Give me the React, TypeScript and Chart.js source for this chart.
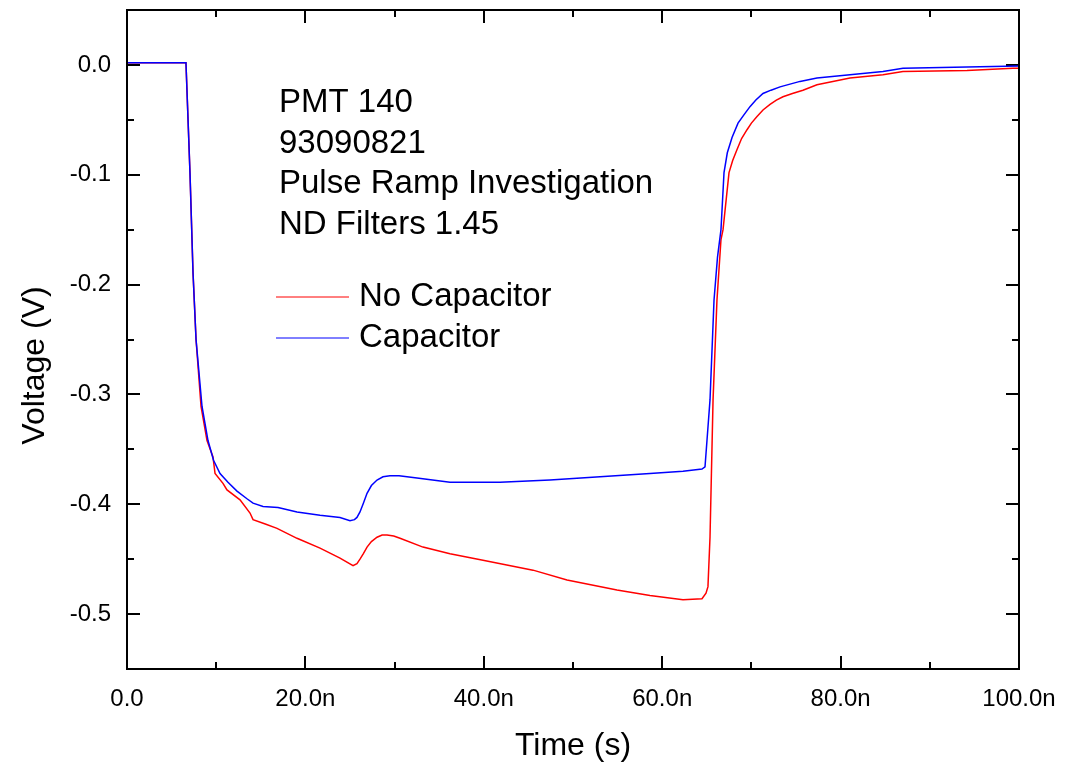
import React, { useEffect, useRef } from "react";
import { Chart, registerables } from "chart.js";

Chart.register(...registerables);

// Time in ns, voltage in V
const timeNoCap = [0, 6.61, 7.06, 7.4, 7.74, 8.3, 8.97, 9.64, 9.87, 10.76, 11.21, 12.67, 13.79, 14.13, 15.5, 16.82, 19.06, 21.64, 23.88, 25.34, 25.78, 26.12, 26.5, 26.91, 27.4, 28.03, 28.6, 29.15, 29.9, 30.61, 33.18, 36.21, 39.91, 45.52, 49.33, 54.93, 58.63, 62.33, 64.46, 64.91, 65.13, 65.36, 65.7, 66.14, 66.59, 66.82, 67.49, 67.9, 68.39, 68.9, 69.51, 70.0, 70.63, 71.3, 72.09, 72.8, 73.54, 74.6, 75.78, 77.35, 81.05, 84.75, 86.99, 94.17, 99.33, 100];
const voltNoCap = [0.002, 0.002, -0.098, -0.189, -0.25, -0.311, -0.342, -0.357, -0.372, -0.381, -0.387, -0.396, -0.408, -0.414, -0.418, -0.422, -0.431, -0.44, -0.449, -0.456, -0.454, -0.45, -0.445, -0.439, -0.434, -0.43, -0.428, -0.428, -0.429, -0.431, -0.439, -0.445, -0.451, -0.46, -0.469, -0.478, -0.483, -0.487, -0.486, -0.481, -0.475, -0.43, -0.305, -0.214, -0.159, -0.15, -0.098, -0.087, -0.077, -0.067, -0.059, -0.053, -0.047, -0.041, -0.036, -0.032, -0.029, -0.026, -0.023, -0.018, -0.012, -0.009, -0.006, -0.005, -0.003, -0.003];

const timeCap = [0, 6.61, 7.06, 7.4, 7.74, 8.41, 9.08, 9.7, 10.43, 11.32, 12.33, 13.45, 14.13, 15.25, 16.93, 19.06, 21.64, 23.88, 25.0, 25.5, 25.78, 26.12, 26.5, 26.91, 27.4, 28.03, 28.7, 29.48, 30.5, 32.51, 36.21, 41.82, 47.42, 53.03, 58.63, 62.33, 64.46, 64.8, 65.02, 65.36, 65.81, 66.2, 66.59, 66.93, 67.3, 67.83, 68.5, 69.2, 69.84, 70.5, 71.3, 72.2, 73.21, 75.45, 77.35, 81.05, 84.75, 86.99, 94.17, 100];
const voltCap = [0.002, 0.002, -0.098, -0.189, -0.25, -0.311, -0.342, -0.36, -0.372, -0.38, -0.388, -0.395, -0.399, -0.402, -0.403, -0.407, -0.41, -0.412, -0.415, -0.414, -0.412, -0.407, -0.399, -0.39, -0.383, -0.378, -0.375, -0.374, -0.374, -0.376, -0.38, -0.38, -0.378, -0.375, -0.372, -0.37, -0.368, -0.366, -0.342, -0.305, -0.214, -0.175, -0.15, -0.098, -0.08, -0.066, -0.053, -0.045, -0.038, -0.032, -0.026, -0.023, -0.02, -0.015, -0.012, -0.009, -0.006, -0.003, -0.002, -0.001];

const seriesNames = ["No Capacitor", "Capacitor"];
const seriesColors = ["#ff0000", "#0000ff"];

const xMajorValues = [0, 20, 40, 60, 80, 100];
const xTickLabels = ["0.0", "20.0n", "40.0n", "60.0n", "80.0n", "100.0n"];
const yMajorValues = [0, -0.1, -0.2, -0.3, -0.4, -0.5];
const yTickLabels = ["0.0", "-0.1", "-0.2", "-0.3", "-0.4", "-0.5"];

const annotationLines = ["PMT 140", "93090821", "Pulse Ramp Investigation", "ND Filters 1.45"];
const xTitle = "Time (s)";
const yTitle = "Voltage (V)";

const FONT = '"Liberation Sans", Arial, sans-serif';

function majorIndex(values: number[], v: number) {
  return values.findIndex((m) => Math.abs(m - v) < 1e-6);
}

const framePlugin = {
  id: "frameTicks",
  beforeDatasetsDraw(chart: any) {
    const { ctx, chartArea, scales } = chart;
    const { left, right, top, bottom } = chartArea;
    const xs = scales.x;
    const ys = scales.y;
    ctx.save();
    ctx.strokeStyle = "#000";
    ctx.lineWidth = 2;
    ctx.beginPath();
    xs.ticks.forEach((t: any) => {
      if (t.value <= xs.min + 1e-9 || t.value >= xs.max - 1e-9) return;
      const px = Math.round(xs.getPixelForValue(t.value));
      const len = majorIndex(xMajorValues, t.value) >= 0 ? 13 : 7;
      ctx.moveTo(px, bottom);
      ctx.lineTo(px, bottom - len);
      ctx.moveTo(px, top);
      ctx.lineTo(px, top + len);
    });
    ys.ticks.forEach((t: any) => {
      if (t.value <= ys.min + 1e-9 || t.value >= ys.max - 1e-9) return;
      const py = Math.round(ys.getPixelForValue(t.value));
      const len = majorIndex(yMajorValues, t.value) >= 0 ? 13 : 7;
      ctx.moveTo(left, py);
      ctx.lineTo(left + len, py);
      ctx.moveTo(right, py);
      ctx.lineTo(right - len, py);
    });
    ctx.stroke();
    ctx.restore();
  },
  afterDraw(chart: any) {
    const { ctx, chartArea } = chart;
    const { left, right, top, bottom } = chartArea;
    ctx.save();
    ctx.strokeStyle = "#000";
    ctx.lineWidth = 2;
    ctx.strokeRect(left, top, right - left, bottom - top);

    // axis titles
    ctx.fillStyle = "#000";
    ctx.font = `32px ${FONT}`;
    ctx.textAlign = "center";
    ctx.textBaseline = "middle";
    ctx.fillText(xTitle, (left + right) / 2, bottom + 77);
    ctx.save();
    ctx.translate(35, (top + bottom) / 2 + 26);
    ctx.rotate(-Math.PI / 2);
    ctx.fillText(yTitle, 0, 0);
    ctx.restore();
    ctx.restore();
  },
  afterDatasetsDraw(chart: any) {
    const { ctx, chartArea } = chart;
    const { left, top } = chartArea;
    ctx.save();
    ctx.fillStyle = "#000";
    ctx.font = `33px ${FONT}`;
    ctx.textBaseline = "middle";
    ctx.textAlign = "left";
    const tx = left + 152;
    annotationLines.forEach((s, i) => {
      ctx.fillText(s, tx, top + 93 + i * 40.7);
    });
    seriesNames.forEach((name, i) => {
      const ly = top + 287 + i * 41;
      ctx.strokeStyle = seriesColors[i];
      ctx.lineWidth = 1;
      ctx.beginPath();
      ctx.moveTo(left + 149, ly);
      ctx.lineTo(left + 222, ly);
      ctx.stroke();
      ctx.fillText(name, left + 232, ly);
    });
    ctx.restore();
  },
};

export default function App() {
  const ref = useRef<HTMLCanvasElement | null>(null);
  useEffect(() => {
    if (!ref.current) return;
    const mk = (ts: number[], vs: number[]) => ts.map((t, i) => ({ x: t, y: vs[i] }));
    const chart = new Chart(ref.current, {
      type: "line",
      data: {
        datasets: [
          {
            label: seriesNames[0],
            data: mk(timeNoCap, voltNoCap),
            borderColor: seriesColors[0],
            borderWidth: 1.5,
            pointRadius: 0,
            tension: 0,
            order: 1,
          },
          {
            label: seriesNames[1],
            data: mk(timeCap, voltCap),
            borderColor: seriesColors[1],
            borderWidth: 1.5,
            pointRadius: 0,
            tension: 0,
            order: 0,
          },
        ],
      },
      options: {
        animation: false,
        responsive: false,
        maintainAspectRatio: false,
        layout: { padding: { top: 10, right: 53, left: 0, bottom: 0 } },
        plugins: { legend: { display: false }, tooltip: { enabled: false } },
        scales: {
          x: {
            type: "linear",
            min: 0,
            max: 100,
            grid: { display: false, drawTicks: false },
            border: { display: false },
            ticks: {
              stepSize: 10,
              padding: 16,
              autoSkip: false,
              maxRotation: 0,
              color: "#000",
              font: { family: FONT, size: 24 },
              callback: (v: any) => {
                const i = majorIndex(xMajorValues, Number(v));
                return i >= 0 ? xTickLabels[i] : "";
              },
            },
            afterFit: (s: any) => {
              s.height = 95;
              s.paddingLeft = 0;
              s.paddingRight = 0;
            },
          },
          y: {
            type: "linear",
            min: -0.55,
            max: 0.05,
            grid: { display: false, drawTicks: false },
            border: { display: false },
            ticks: {
              stepSize: 0.05,
              padding: 16,
              autoSkip: false,
              color: "#000",
              font: { family: FONT, size: 24 },
              callback: (v: any) => {
                const i = majorIndex(yMajorValues, Number(v));
                return i >= 0 ? yTickLabels[i] : "";
              },
            },
            afterFit: (s: any) => {
              s.width = 127;
              s.paddingTop = 0;
              s.paddingBottom = 0;
            },
          },
        },
      },
      plugins: [framePlugin],
    });
    return () => chart.destroy();
  }, []);
  return (
    <div style={{ position: "fixed", left: 0, top: 0, width: 1072, height: 764, background: "#fff" }}>
      <canvas ref={ref} width={1072} height={764} style={{ width: 1072, height: 764 }} />
    </div>
  );
}
